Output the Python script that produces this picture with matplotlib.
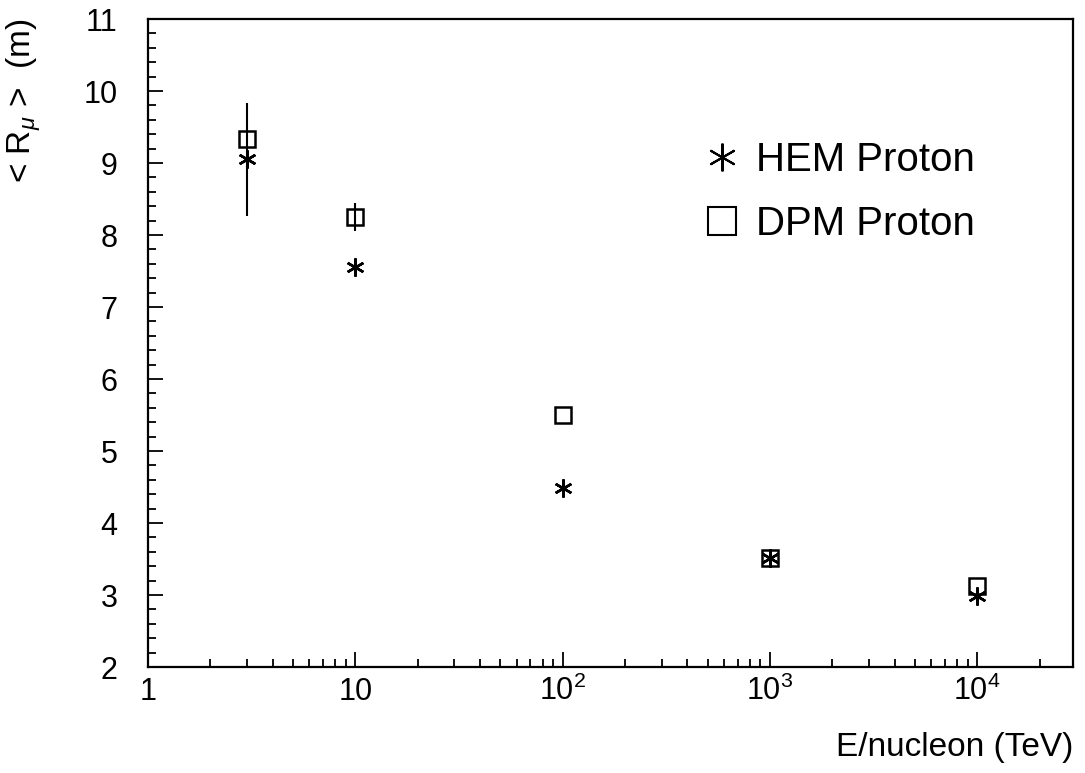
import matplotlib
matplotlib.use('Agg')
import matplotlib.pyplot as plt
from matplotlib.ticker import FixedLocator, FixedFormatter, MultipleLocator
from matplotlib.lines import Line2D

plt.rcParams['font.family'] = ['Liberation Sans', 'DejaVu Sans']
plt.rcParams['mathtext.fontset'] = 'custom'
plt.rcParams['mathtext.rm'] = 'Liberation Sans'
plt.rcParams['mathtext.it'] = 'Liberation Sans:italic'

# data
energy = [3, 10, 100, 1000, 10000]
hem = [9.05, 7.55, 4.48, 3.52, 2.98]
hem_err = [0.78, 0.0, 0.0, 0.0, 0.0]
dpm = [9.33, 8.25, 5.50, 3.52, 3.12]
dpm_err = [0.0, 0.2, 0.0, 0.0, 0.0]

xticks = [1, 10, 100, 1000, 10000]
xticklabels = ['1', '10', '$10^{2}$', '$10^{3}$', '$10^{4}$']

star = (6, 2, 0)

fig = plt.figure(figsize=(10.85, 7.73), dpi=100)
ax = fig.add_axes([0.1364, 0.1371, 0.8526, 0.8383])

ax.errorbar(energy, hem, yerr=hem_err, fmt='none', ecolor='black', elinewidth=1.5, capsize=0)
ax.errorbar(energy, dpm, yerr=dpm_err, fmt='none', ecolor='black', elinewidth=1.5, capsize=0)
ax.plot(energy, hem, linestyle='none', marker=star, markersize=13,
        markeredgewidth=1.8, color='black')
ax.plot(energy, dpm, linestyle='none', marker='s', markersize=12,
        markerfacecolor='none', markeredgewidth=1.8, color='black')

ax.set_xscale('log')
ax.set_xlim(1, 2.9e4)
ax.set_ylim(2, 11)

ax.xaxis.set_major_locator(FixedLocator(xticks))
ax.xaxis.set_major_formatter(FixedFormatter(xticklabels))
ax.yaxis.set_major_locator(MultipleLocator(1))
ax.yaxis.set_minor_locator(MultipleLocator(0.2))

for s in ax.spines.values():
    s.set_linewidth(1.6)

ax.tick_params(which='both', direction='in', top=False, right=False, width=1.3)
ax.tick_params(which='major', length=11)
ax.tick_params(which='minor', length=5.5)
ax.tick_params(axis='x', which='major', labelsize=22, pad=24)
ax.tick_params(axis='y', which='major', labelsize=22, pad=22)
plt.setp(ax.get_xticklabels(), va='baseline')

ax.set_xlabel('E/nucleon (TeV)', fontsize=24, loc='right', labelpad=18)
ax.set_ylabel(r'< R$_{\mu}$ >  (m)', fontsize=24, loc='top')
ax.yaxis.set_label_coords(-0.112, 1.0)

handles = [
    Line2D([], [], linestyle='none', marker=star, markersize=20, markeredgewidth=1.5, color='black'),
    Line2D([], [], linestyle='none', marker='s', markersize=20, markerfacecolor='none',
           markeredgewidth=1.5, color='black'),
]
ax.legend(handles, ['HEM Proton', 'DPM Proton'], loc='center left',
          bbox_to_anchor=(0.599, 0.733), frameon=False, fontsize=29,
          handlelength=1.0, handletextpad=0.35, labelspacing=0.65,
          borderpad=0, borderaxespad=0)

fig.savefig('out.png', dpi=100)
